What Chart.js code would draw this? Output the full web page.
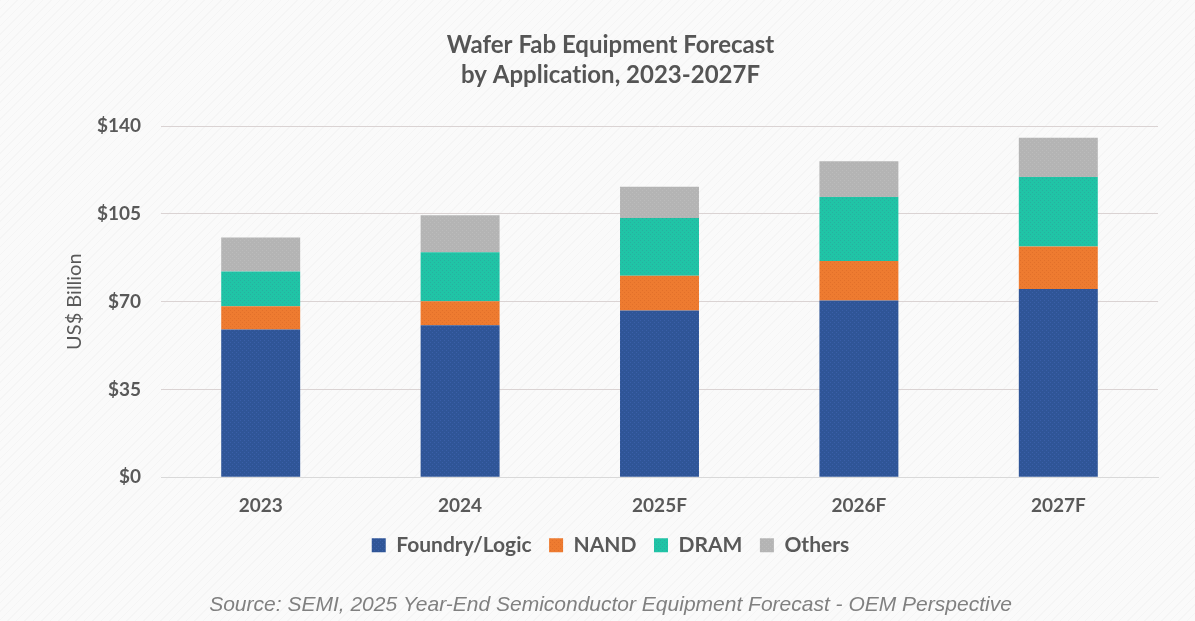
<!DOCTYPE html>
<html>
<head>
<meta charset="utf-8">
<script src="https://cdn.jsdelivr.net/npm/chart.js@4.4.1/dist/chart.umd.min.js"></script>
<style>
  html, body { margin: 0; padding: 0; }
  body {
    width: 1195px; height: 621px; overflow: hidden;
    background-color: #fafafa;
    background-image: repeating-linear-gradient(135deg, rgba(0,0,0,0.018) 0px, rgba(0,0,0,0.018) 1px, transparent 1px, transparent 6px);
  }
  #wrap { position: relative; width: 1195px; height: 621px; }
  canvas { font-variant-ligatures: none; }
</style>
</head>
<body>
<div id="wrap"><canvas id="c" width="1195" height="621"></canvas></div>
<script>
const categories = ["2023", "2024", "2025F", "2026F", "2027F"];
const foundryLogic = [58.9, 60.6, 66.5, 70.5, 75.0];
const nand = [9.3, 9.6, 13.8, 15.7, 17.0];
const dram = [13.8, 19.5, 23.0, 25.5, 27.7];
const others = [13.6, 14.7, 12.5, 14.3, 15.6];
const yTicks = [0, 35, 70, 105, 140];
const seriesNames = ["Foundry/Logic", "NAND", "DRAM", "Others"];

const canvasEl = document.getElementById('c');
const ctx0 = canvasEl.getContext('2d');

function makePattern(base, dot) {
  const p = document.createElement('canvas');
  p.width = 4; p.height = 4;
  const g = p.getContext('2d');
  g.fillStyle = base; g.fillRect(0, 0, 4, 4);
  g.fillStyle = dot; g.fillRect(0, 0, 1, 1); g.fillRect(2, 2, 1, 1);
  return ctx0.createPattern(p, 'repeat');
}

const fills = [
  makePattern('#2f5597', '#3a5fa8'),
  makePattern('#ee7b30', '#e2702a'),
  makePattern('#20c4a6', '#27b0a0'),
  makePattern('#b4b4b4', '#bcbcbc')
];

const seriesData = [foundryLogic, nand, dram, others];

const txt = '#595959';

const noLigatures = {
  id: 'noLigatures',
  beforeDraw(chart) {
    try { chart.ctx.textRendering = 'optimizeLegibility'; } catch (e) {}
    try { chart.ctx.fontVariantCaps = 'normal'; } catch (e) {}
    try { chart.ctx.textRendering = 'optimizeSpeed'; } catch (e) {}
  }
};

new Chart(canvasEl, {
  type: 'bar',
  plugins: [noLigatures],
  data: {
    labels: categories,
    datasets: seriesData.map((d, i) => ({
      label: seriesNames[i],
      data: d,
      backgroundColor: fills[i],
      borderWidth: 0,
      categoryPercentage: 1.0,
      barPercentage: 0.396
    }))
  },
  options: {
    responsive: false,
    animation: false,
    layout: { padding: { left: 63, right: 37, top: 0, bottom: 0 } },
    plugins: {
      title: {
        display: true,
        text: ["Wafer Fab Equipment Forecast", "by Application, 2023-2027F"],
        color: '#555555',
        font: { family: 'Lato', size: 24, weight: 'bold', lineHeight: 1.25 },
        padding: { top: 30, bottom: 36 }
      },
      subtitle: {
        display: true,
        position: 'bottom',
        text: "Source: SEMI, 2025 Year-End Semiconductor Equipment Forecast - OEM Perspective",
        color: '#808080',
        font: { family: 'Liberation Sans', size: 21, style: 'italic', lineHeight: 1.2 },
        padding: { top: 27, bottom: 3 }
      },
      legend: {
        position: 'bottom',
        labels: {
          color: txt,
          font: { family: 'Lato', size: 21, weight: 'bold' },
          boxWidth: 14,
          boxHeight: 14,
          padding: 17.5
        }
      },
      tooltip: { enabled: false }
    },
    scales: {
      x: {
        stacked: true,
        grid: { display: false, drawTicks: false },
        border: { display: true, color: '#d9d9d9', width: 1 },
        ticks: {
          color: txt,
          padding: 17,
          font: { family: 'Lato', size: 19, weight: 'bold' }
        },
        afterFit: (s) => { s.height = 40; }
      },
      y: {
        stacked: true,
        min: 0,
        max: 140,
        afterBuildTicks: (s) => { s.ticks = yTicks.map(v => ({ value: v })); },
        grid: { color: '#dad3d3', lineWidth: 1, drawTicks: false },
        border: { display: false },
        ticks: {
          color: txt,
          padding: 20,
          font: { family: 'Lato', size: 19, weight: 'bold' },
          callback: (v) => '$' + v
        },
        title: {
          display: true,
          text: 'US$ Billion',
          color: txt,
          font: { family: 'Lato', size: 20 },
          padding: { top: 0, bottom: 12 }
        },
        afterFit: (s) => { s.width = 98; }
      }
    }
  }
});
</script>
</body>
</html>
